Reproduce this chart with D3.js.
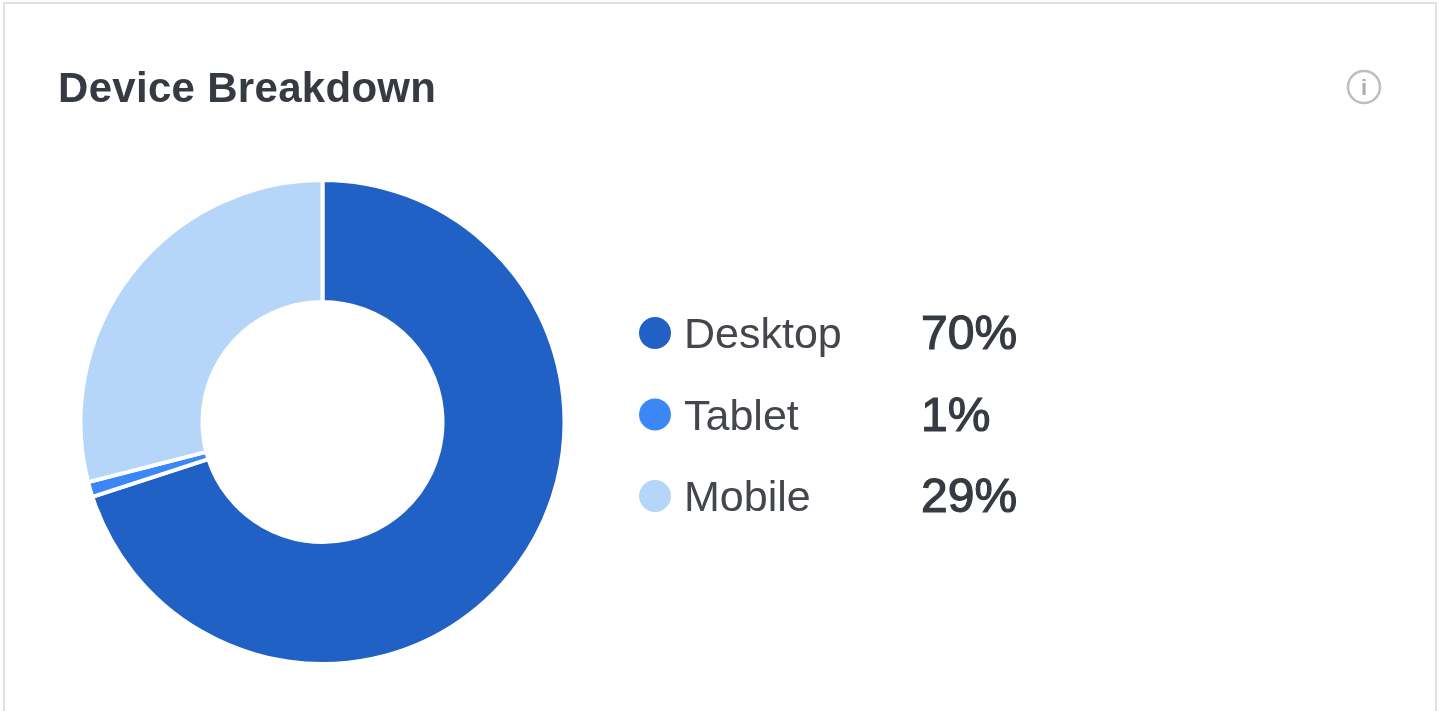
<!DOCTYPE html>
<html lang="en">
<head>
    <meta charset="UTF-8">
    <title>Device Breakdown</title>
    <script src="https://d3js.org/d3.v7.min.js"></script>
    <style>
        html, body {
            margin: 0;
            padding: 0;
            background: #ffffff;
            overflow: hidden;
        }

        svg {
            display: block;
            font-family: 'Liberation Sans', Arial, sans-serif;
            /* the reference is a soft, upscaled screenshot */
            filter: blur(0.7px);
        }
    </style>
</head>
<body>
    <div id="chart"></div>

    <script>
        const categories = ['Desktop', 'Tablet', 'Mobile'];
        const shares = [70, 1, 29];
        const colors = ['#2160c4', '#3b87f5', '#b5d6f8'];

        const width = 1440;
        const height = 711;

        const svg = d3.select('#chart')
            .append('svg')
            .attr('width', width)
            .attr('height', height);

        // Card outline, open at the bottom where the screenshot was cut
        svg.append('path')
            .attr('d', 'M4,711V3H1436V711')
            .attr('fill', 'none')
            .attr('stroke', '#dde0e5')
            .attr('stroke-width', 2);

        svg.append('text')
            .attr('x', 58)
            .attr('y', 102)
            .attr('fill', '#363a42')
            .style('font-size', '42px')
            .style('font-weight', 700)
            .style('letter-spacing', '0.3px')
            .text('Device Breakdown');

        // Info icon
        const info = svg.append('g').attr('transform', 'translate(1364,87)');
        info.append('circle')
            .attr('r', 16)
            .attr('fill', 'none')
            .attr('stroke', '#bcbec2')
            .attr('stroke-width', 2.5);
        info.append('text')
            .attr('y', 8)
            .attr('text-anchor', 'middle')
            .attr('fill', '#a9abb0')
            .style('font-size', '22px')
            .style('font-weight', 700)
            .text('i');

        // Donut
        const pie = d3.pie().sort(null);
        const arc = d3.arc().innerRadius(120).outerRadius(242);

        svg.append('g')
            .attr('transform', 'translate(322.5,422)')
            .selectAll('path')
            .data(pie(shares))
            .enter()
            .append('path')
            .attr('d', arc)
            .attr('fill', (d, i) => colors[i])
            .attr('stroke', '#ffffff')
            .attr('stroke-width', 4);

        // Legend
        const rowScale = d3.scalePoint()
            .domain(categories)
            .range([333, 496]);

        const legend = svg.selectAll('.legend')
            .data(categories)
            .enter()
            .append('g')
            .attr('class', 'legend')
            .attr('transform', d => `translate(0,${rowScale(d)})`);

        legend.append('circle')
            .attr('cx', 655)
            .attr('r', 16)
            .attr('fill', (d, i) => colors[i]);

        legend.append('text')
            .attr('x', 684)
            .attr('y', 15)
            .attr('fill', '#43464d')
            .style('font-size', '43px')
            .text(d => d);

        // Regular face with a thin stroke gives the medium weight of the original
        legend.append('text')
            .attr('x', 921)
            .attr('y', 16)
            .attr('fill', '#363a42')
            .attr('stroke', '#363a42')
            .attr('stroke-width', 1.2)
            .style('font-size', '48px')
            .text((d, i) => shares[i] + '%');
    </script>
</body>
</html>
